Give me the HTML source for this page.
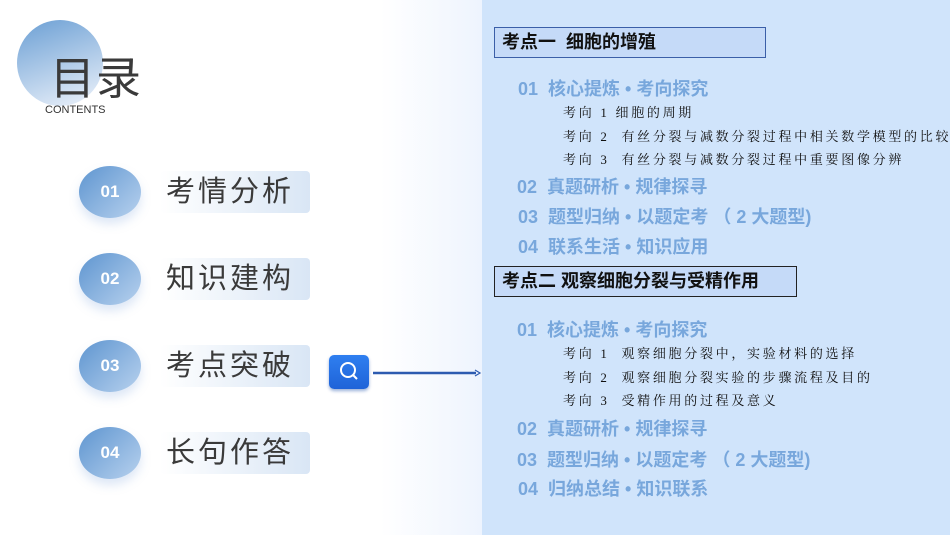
<!DOCTYPE html>
<html><head><meta charset="utf-8"><style>
*{margin:0;padding:0;box-sizing:border-box}
body{width:950px;height:535px;overflow:hidden;background:#fff;font-family:"Liberation Sans","Noto Sans CJK SC",sans-serif;position:relative}
.a{position:absolute}
.panel{left:482px;top:0;width:468px;height:535px;background:#d0e4fb}
.fade{left:380px;top:0;width:102px;height:535px;background:linear-gradient(90deg,#fff,#eef4fe)}
.circ{width:62px;height:52px;border-radius:50%;background:linear-gradient(135deg,#5e95d0,#b7d1ee);color:#fff;font-weight:bold;font-size:17px;display:flex;align-items:center;justify-content:center;box-shadow:0 6px 10px rgba(120,160,220,.25)}
.lab{width:150px;height:42px;border-radius:4px;background:linear-gradient(90deg,#fff,#d9e6f5);font-size:29px;color:#3a3a3a;letter-spacing:3px;line-height:42px;padding-left:6px}
.box{border:1.5px solid #3b5fa8;background:#c5daf8;font-weight:bold;font-size:18px;color:#111;padding-left:7px;line-height:29px}
.h{color:#78a7dc;font-weight:bold;font-size:18px;white-space:nowrap}
.s{font-family:"Liberation Serif","Noto Serif CJK SC",serif;font-size:13px;color:#111;white-space:nowrap;letter-spacing:2.7px}
</style></head><body>
<div class="a fade"></div>
<div class="a panel"></div>
<div class="a" style="left:17px;top:20px;width:86px;height:86px;border-radius:50%;background:linear-gradient(160deg,#6b9fd4,#eef3fb)"></div>
<div class="a" style="left:50px;top:42px;font-size:45px;color:#3a3a3a;letter-spacing:1px">目录</div>
<div class="a" style="left:45px;top:104px;font-size:11px;color:#333">CONTENTS</div>

<div class="a circ" style="left:79px;top:166px">01</div>
<div class="a lab" style="left:160px;top:171px">考情分析</div>
<div class="a circ" style="left:79px;top:253px">02</div>
<div class="a lab" style="left:160px;top:258px">知识建构</div>
<div class="a circ" style="left:79px;top:340px">03</div>
<div class="a lab" style="left:160px;top:345px">考点突破</div>
<div class="a circ" style="left:79px;top:427px">04</div>
<div class="a lab" style="left:160px;top:432px">长句作答</div>

<div class="a" style="left:329px;top:355px;width:40px;height:34px;border-radius:5px;background:linear-gradient(#2f7ff0,#1f63d8);box-shadow:0 2px 3px rgba(0,60,160,.4)"></div>
<svg class="a" style="left:329px;top:355px" width="40" height="34"><circle cx="19" cy="15" r="7" fill="none" stroke="#fff" stroke-width="2"/><line x1="24" y1="20" x2="28" y2="24" stroke="#fff" stroke-width="2"/></svg>
<svg class="a" style="left:372px;top:368px" width="110" height="10"><line x1="1" y1="5" x2="104" y2="5" stroke="#2d5bb0" stroke-width="2.5"/><path d="M103 2 L108 5 L103 8" fill="none" stroke="#2d5bb0" stroke-width="1.2"/></svg>

<div class="a box" style="left:494px;top:27px;width:272px;height:31px">考点一&nbsp;&nbsp;细胞的增殖</div>
<div class="a h" style="left:518px;top:75px">01&nbsp; 核心提炼 • 考向探究</div>
<div class="a s" style="left:563px;top:102px">考向 1 细胞的周期</div>
<div class="a s" style="left:563px;top:126px">考向 2&nbsp; 有丝分裂与减数分裂过程中相关数学模型的比较</div>
<div class="a s" style="left:563px;top:149px">考向 3&nbsp; 有丝分裂与减数分裂过程中重要图像分辨</div>
<div class="a h" style="left:517px;top:173px">02&nbsp; 真题研析 • 规律探寻</div>
<div class="a h" style="left:518px;top:203px">03&nbsp; 题型归纳 • 以题定考 （ 2 大题型)</div>
<div class="a h" style="left:518px;top:233px">04&nbsp; 联系生活 • 知识应用</div>

<div class="a box" style="left:494px;top:266px;width:303px;height:31px;border-color:#222">考点二 观察细胞分裂与受精作用</div>
<div class="a h" style="left:517px;top:316px">01&nbsp; 核心提炼 • 考向探究</div>
<div class="a s" style="left:563px;top:343px">考向 1&nbsp; 观察细胞分裂中，实验材料的选择</div>
<div class="a s" style="left:563px;top:367px">考向 2&nbsp; 观察细胞分裂实验的步骤流程及目的</div>
<div class="a s" style="left:563px;top:390px">考向 3&nbsp; 受精作用的过程及意义</div>
<div class="a h" style="left:517px;top:415px">02&nbsp; 真题研析 • 规律探寻</div>
<div class="a h" style="left:517px;top:446px">03&nbsp; 题型归纳 • 以题定考 （ 2 大题型)</div>
<div class="a h" style="left:518px;top:475px">04&nbsp; 归纳总结 • 知识联系</div>
</body></html>
